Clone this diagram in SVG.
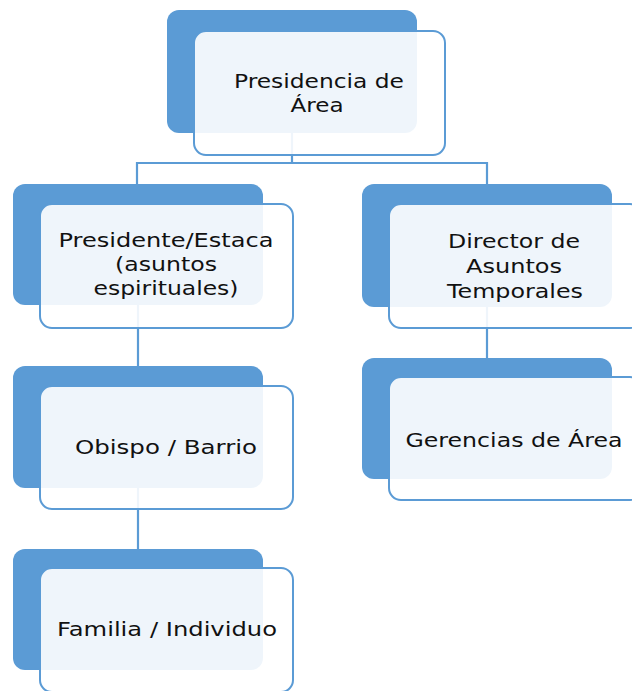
<svg xmlns="http://www.w3.org/2000/svg" width="632" height="691" viewBox="0 0 632 691">
<style>
.back{fill:#5b9bd5;}
.front{fill:#ffffff;fill-opacity:0.9;stroke:#5b9bd5;stroke-width:2;}
.conn{fill:none;stroke:#5b9bd5;stroke-width:2.2;}
.lbl{font-family:"DejaVu Sans","Liberation Sans",sans-serif;font-size:20px;fill:#111111;text-anchor:middle;}
</style>
<rect width="632" height="691" fill="#ffffff"/>
<g id="connectors">
<path class="conn" d="M292,133 V163 M137,163 H487 M137,162 V184 M487,162 V184"/>
<path class="conn" d="M138,305 V366 M138,488 V549"/>
<path class="conn" d="M487,307 V358"/>
</g>
<g id="node-presidencia">
<rect class="back" x="167" y="10" width="250" height="123" rx="12"/>
<rect class="front" x="194" y="31" width="251" height="124" rx="12"/>
<text class="lbl" x="319" y="88" textLength="170" lengthAdjust="spacingAndGlyphs">Presidencia de</text>
<text class="lbl" x="317" y="112" textLength="53" lengthAdjust="spacingAndGlyphs">Área</text>
</g>
<g id="node-presidente">
<rect class="back" x="13" y="184" width="250" height="121" rx="12"/>
<rect class="front" x="40" y="204" width="253" height="124" rx="12"/>
<text class="lbl" x="166" y="247" textLength="215" lengthAdjust="spacingAndGlyphs">Presidente/Estaca</text>
<text class="lbl" x="166" y="271" textLength="102" lengthAdjust="spacingAndGlyphs">(asuntos</text>
<text class="lbl" x="166" y="295" textLength="145" lengthAdjust="spacingAndGlyphs">espirituales)</text>
</g>
<g id="node-director">
<rect class="back" x="362" y="184" width="250" height="123" rx="12"/>
<rect class="front" x="389" y="204" width="253" height="124" rx="12"/>
<text class="lbl" x="514" y="248" textLength="132" lengthAdjust="spacingAndGlyphs">Director de</text>
<text class="lbl" x="514" y="273" textLength="96" lengthAdjust="spacingAndGlyphs">Asuntos</text>
<text class="lbl" x="515" y="298" textLength="136" lengthAdjust="spacingAndGlyphs">Temporales</text>
</g>
<g id="node-obispo">
<rect class="back" x="13" y="366" width="250" height="122" rx="12"/>
<rect class="front" x="40" y="386" width="253" height="123" rx="12"/>
<text class="lbl" x="166" y="454" textLength="182" lengthAdjust="spacingAndGlyphs">Obispo / Barrio</text>
</g>
<g id="node-gerencias">
<rect class="back" x="362" y="358" width="250" height="121" rx="12"/>
<rect class="front" x="389" y="377" width="253" height="123" rx="12"/>
<text class="lbl" x="514" y="447" textLength="217" lengthAdjust="spacingAndGlyphs">Gerencias de Área</text>
</g>
<g id="node-familia">
<rect class="back" x="13" y="549" width="250" height="121" rx="12"/>
<rect class="front" x="40" y="568" width="253" height="124" rx="12"/>
<text class="lbl" x="167" y="636" textLength="220" lengthAdjust="spacingAndGlyphs">Familia / Individuo</text>
</g>
</svg>
